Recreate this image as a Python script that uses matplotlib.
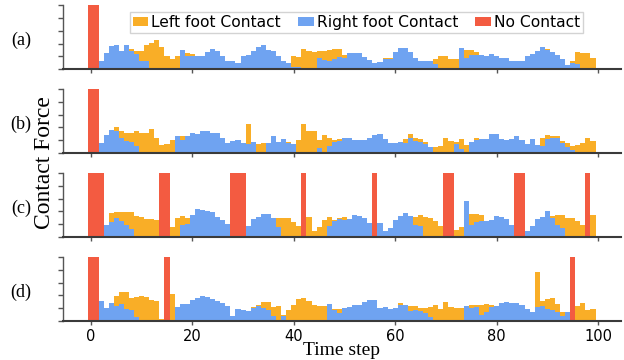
import numpy as np
import matplotlib
matplotlib.use('Agg')
import matplotlib.pyplot as plt

steps = np.arange(100)
xticks = [0, 20, 40, 60, 80, 100]
panel_tags = ['(a)', '(b)', '(c)', '(d)']
series_names = ['Left foot Contact', 'Right foot Contact', 'No Contact']

# ---------------- panel (a) ----------------
left_a = [0, 0, 0, 0, 0, 0, 0, 0, .31, .29,
          .29, .37, .41, .45, .35, .20, .16, .20, 0, .25,
          .23, .21, 0, 0, 0, 0, 0, 0, 0, 0,
          0, 0, 0, 0, 0, 0, 0, 0, 0, 0,
          .21, .19, .31, .28, .26, .28, .29, .30, .31, .31,
          .22, 0, 0, 0, 0, 0, 0, 0, .17, .18,
          0, 0, 0, 0, 0, 0, 0, 0, .16, .20,
          .20, .16, .16, 0, .30, .30, .26, 0, 0, 0,
          0, 0, 0, 0, 0, 0, 0, 0, 0, 0,
          .31, 0, 0, 0, 0, .12, .27, .25, .25, .18]
right_a = [0, 0, .13, .25, .36, .37, .29, .37, .29, .23,
           .12, .13, 0, 0, 0, 0, 0, 0, .30, .20,
           .20, .20, .20, .27, .31, .29, .20, .13, .13, .10,
           .21, .22, .29, .34, .38, .30, .28, .20, .12, .10,
           .04, .04, 0, 0, 0, .17, .14, .13, .16, .19,
           .18, .25, .25, .25, .19, .14, .09, .11, .16, .16,
           .27, .33, .33, .26, .18, .12, .12, .12, .08, 0,
           0, 0, 0, .33, .18, .22, .22, .22, .20, .23,
           .21, .17, .17, .13, .12, .13, .20, .23, .29, .34,
           .30, .27, .22, .16, .07, .10, .08, 0, 0, 0]
nocontact_a = [0, 1]

# ---------------- panel (b) ----------------
left_b = [0, 0, 0, 0, 0, .40, .34, .31, .32, .34,
          .31, .32, .37, .23, .13, .15, .20, 0, .26, 0,
          0, 0, 0, 0, 0, 0, 0, 0, 0, 0,
          0, .45, 0, .14, .16, 0, 0, 0, 0, .18,
          .15, .21, .45, .34, .35, .21, .29, .24, .21, .22,
          .24, 0, 0, 0, 0, 0, 0, 0, 0, 0,
          0, 0, .22, .30, .24, .22, .18, 0, .10, .11,
          .24, .19, .18, .22, .13, 0, .24, 0, 0, 0,
          0, 0, 0, 0, 0, 0, 0, 0, 0, .24,
          .29, .27, .26, .19, .16, .11, .13, .16, .24, .19]
right_b = [0, 0, .16, .29, .36, .34, .24, .19, .18, .11,
           0, 0, 0, 0, 0, 0, 0, .27, .21, .27,
           .32, .30, .34, .34, .32, .31, .24, .16, .19, .21,
           .16, .15, .18, 0, 0, .16, .27, .18, .22, .16,
           .14, 0, 0, 0, 0, .08, 0, .11, .18, .19,
           .24, .24, .21, .21, .21, .24, .29, .30, .22, .16,
           .16, .18, .16, .24, .19, .18, .14, .10, 0, 0,
           0, 0, .14, .06, 0, .18, .21, .22, .22, .30,
           .30, .22, .21, .22, .26, .21, .14, .22, .13, .11,
           .22, .24, .24, .16, .10, .05, 0, 0, 0, 0]
nocontact_b = [0, 1]

# ---------------- panel (c) ----------------
left_c = [0, 0, 0, 0, .37, .39, .39, .39, .39, .33,
          .32, .28, .28, .27, 0, 0, .16, .30, .33, .30,
          0, 0, 0, 0, 0, 0, 0, 0, 0, 0,
          0, 0, 0, 0, 0, 0, 0, .30, .30, .30,
          .24, .18, 0, .32, .10, .16, .27, .32, .27, .30,
          .32, 0, 0, 0, 0, 0, 0, 0, 0, 0,
          0, 0, 0, 0, .32, .35, .32, .30, .25, .18,
          0, 0, .11, .16, 0, .36, .36, .35, 0, 0,
          0, 0, 0, 0, 0, 0, 0, 0, 0, 0,
          0, .33, .35, .35, .30, .30, .25, .19, 0, .35]
right_c = [0, 0, 0, .19, .23, .30, .25, .19, .13, 0,
           0, 0, 0, 0, 0, 0, 0, 0, .19, .21,
           .35, .44, .42, .41, .39, .32, .27, .21, 0, 0,
           0, .18, .28, .32, .36, .36, .30, .16, 0, 0,
           0, 0, 0, 0, 0, 0, 0, .18, .25, .28,
           .27, .28, .35, .33, .30, .22, 0, .22, .10, .15,
           .27, .33, .38, .33, .19, .18, 0, 0, 0, 0,
           0, 0, 0, 0, .56, .19, .24, .25, .25, .27,
           .33, .32, .28, .19, 0, 0, .10, .18, .28, .32,
           .41, .30, .19, .15, 0, 0, 0, 0, 0, 0]
nocontact_c = [0, 1, 2, 14, 15, 28, 29, 30, 42, 56, 70, 71, 84, 85, 98]

# ---------------- panel (d) ----------------
left_d = [0, 0, 0, 0, 0, .39, .45, .45, .36, .38,
          .39, .38, .33, .31, .03, 0, .42, 0, 0, 0,
          0, 0, 0, 0, 0, 0, 0, 0, 0, 0,
          0, 0, .22, .25, .30, .30, .22, .23, .09, .17,
          .25, .34, .36, .31, .25, .23, .23, 0, .19, .19,
          .21, 0, 0, 0, 0, 0, 0, 0, 0, 0,
          0, .28, 0, .23, .23, .20, .20, .22, .25, .19,
          .30, .22, .20, .20, 0, .25, .25, .25, .27, .25,
          0, 0, 0, 0, 0, 0, 0, 0, .77, .31,
          .34, .36, .27, .14, 0, 0, .23, .28, .17, .19]
right_d = [0, 0, .31, .21, .28, .23, .27, .19, .17, .06,
           0, 0, 0, 0, 0, 0, 0, .22, .27, .27,
           .33, .36, .39, .38, .34, .31, .28, .23, .08, .19,
           .17, .16, .20, .23, .20, .17, .08, 0, .08, 0,
           0, 0, 0, 0, 0, 0, 0, .27, .17, .13,
           .20, .22, .25, .25, .30, .33, .33, .20, .22, .19,
           .20, .25, .25, .16, .17, .16, .13, .06, 0, 0,
           0, 0, 0, 0, .23, .20, .22, .09, .14, .22,
           .23, .28, .30, .28, .28, .25, .19, .14, .22, .23,
           .19, .17, .14, .08, .14, 0, 0, 0, 0, 0]
nocontact_d = [0, 1, 15, 95]

panels = [(left_a, right_a, nocontact_a),
          (left_b, right_b, nocontact_b),
          (left_c, right_c, nocontact_c),
          (left_d, right_d, nocontact_d)]

ORANGE = '#F9AE27'
BLUE = '#6FA3F1'
RED = '#F35B41'
SPINE = '#3a3a3a'
SERIF = ['Liberation Serif', 'DejaVu Serif']

fig, axes = plt.subplots(4, 1, figsize=(6.24, 3.6), dpi=100)
fig.subplots_adjust(left=0.101, right=0.995, top=0.986, bottom=0.108, hspace=0.31)

for i, (ax, (L, R, N)) in enumerate(zip(axes, panels)):
    nc = np.zeros(len(steps))
    nc[N] = 1.0
    ax.bar(steps, L, width=1.0, color=ORANGE, linewidth=0, label=series_names[0])
    ax.bar(steps, R, width=1.0, color=BLUE, linewidth=0, label=series_names[1])
    ax.bar(steps, nc, width=1.0, color=RED, linewidth=0, label=series_names[2])
    ax.set_xlim(-5.5, 104.5)
    ax.set_ylim(0, 1)
    ax.set_yticks(np.linspace(0, 1, 6))
    ax.set_yticklabels([])
    ax.set_xticks(xticks)
    if i < 3:
        ax.set_xticklabels([])
    else:
        ax.set_xticklabels([str(t) for t in xticks], fontsize=10.5)
    for s in ['top', 'right']:
        ax.spines[s].set_visible(False)
    ax.spines['left'].set_color('#555555')
    ax.spines['left'].set_linewidth(1.0)
    ax.spines['bottom'].set_color(SPINE)
    ax.spines['bottom'].set_linewidth(1.5)
    ax.tick_params(axis='y', length=3.5, width=1.0, color='#555555')
    ax.tick_params(axis='x', length=3, width=1.0, color='#555555', pad=2.5)
    ax.text(-0.075, 0.45, panel_tags[i], transform=ax.transAxes, ha='center',
            va='center', fontsize=13, family=SERIF)

axes[-1].set_xlabel('Time step', fontsize=14, family=SERIF, labelpad=-1)
fig.text(45 / 624, 1 - 163 / 360, 'Contact Force', rotation=90, ha='center',
         va='center', fontsize=17, family=SERIF)

axes[0].legend(loc='upper center', bbox_to_anchor=(0.526, 0.892), ncol=3,
               fontsize=11.2, handlelength=1.0, handleheight=0.55,
               handletextpad=0.2, columnspacing=1.1, borderpad=0.18,
               borderaxespad=0, fancybox=False, edgecolor='#cccccc',
               framealpha=0.85)

fig.savefig('out.png', dpi=100)
